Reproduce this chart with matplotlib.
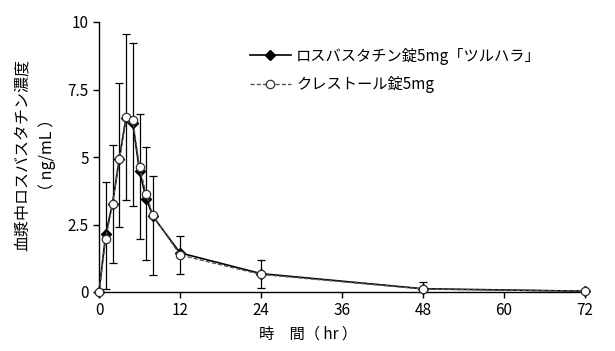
import matplotlib
matplotlib.use("Agg")
import matplotlib.pyplot as plt

plt.rcParams["font.family"] = ["Noto Sans CJK JP", "DejaVu Sans"]
plt.rcParams["axes.unicode_minus"] = False

# 時間 (hr)
times = [0, 1, 2, 3, 4, 5, 6, 7, 8, 12, 24, 48, 72]
# ロスバスタチン錠5mg「ツルハラ」 平均値
ref_conc = [0, 2.15, 3.27, 4.92, 6.45, 6.27, 4.47, 3.46, 2.80, 1.45, 0.68, 0.12, 0.03]
# クレストール錠5mg 平均値
std_conc = [0, 1.97, 3.27, 4.92, 6.47, 6.37, 4.62, 3.63, 2.84, 1.37, 0.65, 0.11, 0.03]
# 誤差棒の下端・上端
err_low = [0, 0.10, 1.07, 2.40, 3.41, 3.19, 1.97, 1.20, 0.63, 0.67, 0.15, 0.0, 0.0]
err_high = [0, 4.07, 5.44, 7.75, 9.54, 9.21, 6.60, 5.38, 4.29, 2.06, 1.19, 0.38, 0.08]

legend_ref = "ロスバスタチン錠5mg「ツルハラ」"
legend_std = "クレストール錠5mg"

fig = plt.figure(figsize=(6.15, 3.51), dpi=100)
ax = fig.add_axes([99 / 615, 1 - 292 / 351, 486 / 615, 270 / 351])

yerr = [[m - lo for m, lo in zip(ref_conc, err_low)],
        [hi - m for m, hi in zip(ref_conc, err_high)]]
ax.errorbar(times, ref_conc, yerr=yerr, fmt="none", ecolor="black",
            elinewidth=0.9, capsize=3, capthick=0.9, zorder=2, clip_on=False)

ax.plot(times, ref_conc, color="black", linewidth=1.2, marker="D",
        markersize=5, markerfacecolor="black", markeredgecolor="black",
        label=legend_ref, zorder=3, clip_on=False)
ax.plot(times, std_conc, color="#555555", linewidth=1.0, linestyle=(0, (3, 1.5)),
        marker="o", markersize=6, markerfacecolor="white",
        markeredgecolor="#333333", markeredgewidth=0.9,
        label=legend_std, zorder=4, clip_on=False)

ax.set_xlim(0, 72)
ax.set_ylim(0, 10)
ax.set_xticks([0, 12, 24, 36, 48, 60, 72])
ax.set_yticks([0, 2.5, 5, 7.5, 10])
ax.set_yticklabels(["0", "2.5", "5", "7.5", "10"])
ax.tick_params(direction="out", length=4, width=1, labelsize=11, colors="black")
for side in ("top", "right"):
    ax.spines[side].set_visible(False)
for side in ("left", "bottom"):
    ax.spines[side].set_linewidth(1.0)

ax.set_xlabel("時　間（ hr ）", fontsize=11)
ax.xaxis.set_label_coords((308 - 99) / 486, -(326 - 292) / 270)
ax.set_ylabel("血漿中ロスバスタチン濃度\n（ ng/mL ）", fontsize=11.5,
              linespacing=1.55)
ax.yaxis.set_label_coords(-(99 - 56) / 486, (292 - 155) / 270)

ax.legend(loc="upper left", bbox_to_anchor=(0.31, 0.905), frameon=False,
          fontsize=11, handlelength=2.7, handletextpad=0.35, labelspacing=0.75,
          borderaxespad=0, borderpad=0)

fig.savefig("out.png", dpi=100)
